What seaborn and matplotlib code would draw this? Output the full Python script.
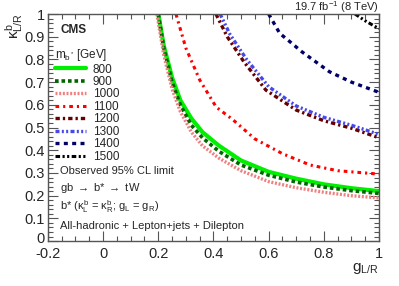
import matplotlib
matplotlib.use("Agg")
import matplotlib.pyplot as plt
import matplotlib.transforms as mtransforms
import seaborn as sns
import pandas as pd
from matplotlib.lines import Line2D
from matplotlib.ticker import MultipleLocator

sns.set_style("ticks")
plt.rcParams['font.family'] = ['Liberation Sans', 'DejaVu Sans']
plt.rcParams['mathtext.fontset'] = 'custom'
plt.rcParams['mathtext.rm'] = 'Liberation Sans'
plt.rcParams['mathtext.it'] = 'Liberation Sans'

masses = ["800", "900", "1000", "1100", "1200", "1300", "1400", "1500"]
g_800 = [0.20, 0.22, 0.25, 0.28, 0.32, 0.36, 0.42, 0.50, 0.60, 0.70, 0.80, 0.90, 1.00]
k_800 = [1.0, 0.86, 0.72, 0.62, 0.54, 0.48, 0.42, 0.355, 0.305, 0.275, 0.25, 0.233, 0.22]
g_900 = [0.20, 0.22, 0.25, 0.28, 0.32, 0.36, 0.42, 0.50, 0.60, 0.70, 0.80, 0.90, 1.00]
k_900 = [1.0, 0.85, 0.70, 0.60, 0.51, 0.455, 0.395, 0.335, 0.29, 0.26, 0.238, 0.222, 0.21]
g_1000 = [0.195, 0.22, 0.25, 0.28, 0.32, 0.36, 0.42, 0.50, 0.60, 0.70, 0.80, 0.90, 1.00]
k_1000 = [1.0, 0.82, 0.67, 0.57, 0.48, 0.42, 0.365, 0.31, 0.262, 0.235, 0.215, 0.20, 0.19]
g_1100 = [0.264, 0.30, 0.35, 0.41, 0.47, 0.55, 0.65, 0.75, 0.85, 1.00]
k_1100 = [1.0, 0.85, 0.71, 0.59, 0.535, 0.45, 0.385, 0.335, 0.31, 0.295]
g_1200 = [0.409, 0.45, 0.51, 0.59, 0.70, 0.80, 0.90, 1.00]
k_1200 = [1.0, 0.90, 0.79, 0.665, 0.577, 0.53, 0.497, 0.455]
g_1300 = [0.424, 0.46, 0.52, 0.60, 0.70, 0.80, 0.90, 1.00]
k_1300 = [1.0, 0.91, 0.80, 0.68, 0.595, 0.545, 0.51, 0.47]
g_1400 = [0.60, 0.64, 0.68, 0.72, 0.82, 0.90, 1.00]
k_1400 = [1.0, 0.915, 0.875, 0.834, 0.746, 0.70, 0.655]
g_1500 = [0.913, 0.95, 1.00]
k_1500 = [1.0, 0.97, 0.935]

series = [(g_800, k_800), (g_900, k_900), (g_1000, k_1000), (g_1100, k_1100),
          (g_1200, k_1200), (g_1300, k_1300), (g_1400, k_1400), (g_1500, k_1500)]
styles = [
    dict(color="#00ee00", linestyle="-", linewidth=3.0),
    dict(color="#006600", linestyle=(0, (1.0, 0.8)), linewidth=2.6),
    dict(color="#f08080", linestyle=(0, (0.6, 0.5)), linewidth=2.4),
    dict(color="#ff0000", linestyle=(0, (1.2, 1.3, 0.7, 1.3)), linewidth=2.2),
    dict(color="#660000", linestyle=(0, (1.3, 0.9, 0.7, 0.9)), linewidth=2.4),
    dict(color="#4848e8", linestyle=(0, (1.2, 0.7, 0.6, 0.7, 0.6, 0.7)), linewidth=2.4),
    dict(color="#000066", linestyle=(0, (1.2, 1.3)), linewidth=2.4),
    dict(color="#000000", linestyle=(0, (1.5, 0.8, 0.7, 0.8, 0.7, 0.8)), linewidth=2.2),
]

fig = plt.figure(figsize=(3.99, 2.86), dpi=100)
ax = fig.add_axes([0.120, 0.157, 0.830, 0.794])

for m, (g, k), st in zip(masses, series, styles):
    df = pd.DataFrame({"g": g, "k": k})
    sns.lineplot(data=df, x="g", y="k", ax=ax, estimator=None, sort=True,
                 color=st["color"], linestyle=st["linestyle"], linewidth=st["linewidth"])

ax.set_xlim(-0.2, 1.0)
ax.set_ylim(0, 1.0)
ax.set_xlabel("")
ax.set_ylabel("")
ax.xaxis.set_minor_locator(MultipleLocator(0.05))
ax.yaxis.set_minor_locator(MultipleLocator(0.02))
ax.set_xticks([-0.2, 0, 0.2, 0.4, 0.6, 0.8, 1.0])
ax.set_xticklabels(["-0.2", "0", "0.2", "0.4", "0.6", "0.8", "1"])
ax.set_yticks([0, 0.1, 0.2, 0.3, 0.4, 0.5, 0.6, 0.7, 0.8, 0.9, 1.0])
ax.set_yticklabels(["0", "0.1", "0.2", "0.3", "0.4", "0.5", "0.6", "0.7", "0.8", "0.9", "1"])
ax.tick_params(which="both", direction="in", top=True, right=True, color="#555555",
               labelsize=10.5)
ax.tick_params(axis="y", pad=2)
ax.tick_params(axis="x", pad=4.5)
ax.tick_params(which="major", length=7, width=0.8)
ax.tick_params(which="minor", length=3.5, width=0.8)
for s in ax.spines.values():
    s.set_color("#555555")
    s.set_linewidth(1.0)

# nudge the y "0" label up slightly so it does not collide with "-0.2"
zero_lab = ax.get_yticklabels()[0]
zero_lab.set_transform(zero_lab.get_transform() +
                       mtransforms.ScaledTranslation(0, 2.5 / 72, fig.dpi_scale_trans))

fig.text(0.950, 0.960, r"19.7 fb$^{-1}$ (8 TeV)", ha="right", va="baseline", fontsize=8)
fig.text(0.035, 0.955, r"$\kappa^{b}_{L/R}$", rotation=90, ha="center", va="top", fontsize=11)
fig.text(0.950, 0.035, r"g$_{L/R}$", ha="right", va="bottom", fontsize=11)

ax.text(0.038, 0.93, "CMS", transform=ax.transAxes, fontsize=8.5, fontweight="bold",
        ha="left", va="center")

handles = [Line2D([0], [0], **st) for st in styles]
leg = ax.legend(handles, masses, title=r"m$_{b^{*}}$ [GeV]", loc="upper left",
                bbox_to_anchor=(0.015, 0.865), frameon=False, fontsize=8.5,
                title_fontsize=8.5, handlelength=2.6, handletextpad=0.6,
                labelspacing=0.04, borderpad=0.2, borderaxespad=0.0)
leg._legend_box.align = "left"

ax.text(0.038, 0.31, "Observed 95% CL limit", transform=ax.transAxes, fontsize=8, va="center")
ax.text(0.038, 0.235, r"gb $\rightarrow$ b* $\rightarrow$ tW", transform=ax.transAxes, fontsize=8, va="center")
ax.text(0.038, 0.15, r"b* ($\kappa^{b}_{L}$ = $\kappa^{b}_{R}$; g$_{L}$ = g$_{R}$)",
        transform=ax.transAxes, fontsize=8, va="center")
ax.text(0.038, 0.065, "All-hadronic + Lepton+jets + Dilepton", transform=ax.transAxes,
        fontsize=8, va="center")

fig.savefig("out.png", dpi=100)
